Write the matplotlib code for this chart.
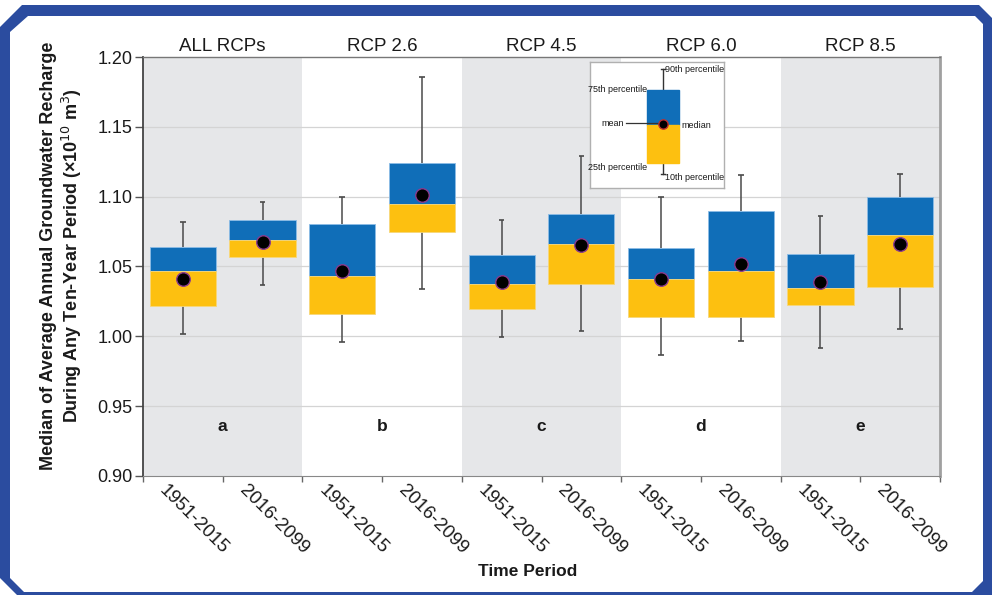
import matplotlib
matplotlib.use("Agg")
import matplotlib.pyplot as plt
from matplotlib.patches import Rectangle, Polygon
from matplotlib.transforms import ScaledTranslation
import numpy as np

plt.rcParams['font.family'] = ['Liberation Sans', 'DejaVu Sans']

# ---------------- data ----------------
groups = ["ALL RCPs", "RCP 2.6", "RCP 4.5", "RCP 6.0", "RCP 8.5"]
panel_letters = ["a", "b", "c", "d", "e"]
periods = ["1951-2015", "2016-2099"]
p10    = [1.0014, 1.0369, 0.9959, 1.0336, 0.9995, 1.0038, 0.9864, 0.9967, 0.9914, 1.0050]
q25    = [1.0214, 1.0567, 1.0162, 1.0748, 1.0193, 1.0374, 1.0138, 1.0138, 1.0226, 1.0350]
median = [1.0471, 1.0693, 1.0429, 1.0948, 1.0376, 1.0659, 1.0409, 1.0469, 1.0343, 1.0726]
q75    = [1.0643, 1.0831, 1.0807, 1.1243, 1.0579, 1.0879, 1.0633, 1.0900, 1.0588, 1.1000]
p90    = [1.0821, 1.0962, 1.0998, 1.1857, 1.0833, 1.1288, 1.0995, 1.1155, 1.0860, 1.1159]
mean   = [1.0414, 1.0676, 1.0467, 1.1014, 1.0388, 1.0657, 1.0407, 1.0521, 1.0386, 1.0659]
yticks = [0.90, 0.95, 1.00, 1.05, 1.10, 1.15, 1.20]

BLUE = '#106EB8'
YELLOW = '#FDC010'
SHADE = '#E6E7E9'
TXT = '#1a1a1a'
FRAME = '#2B4C9F'

W, H = 992, 595
fig = plt.figure(figsize=(W / 100, H / 100), dpi=100)
fig.patch.set_facecolor('white')

def fx(px):
    return px / W
def fy(py):
    return 1 - py / H

# outer decorative frame (blue band with chamfered corners)
outer = [(0, 27), (22, 5), (979, 5), (992, 18), (992, 595), (17, 595), (0, 578)]
inner = [(10, 32), (28, 16), (975, 16), (983, 24), (983, 581), (972, 592),
         (24, 592), (10, 578)]
fig.patches.append(Polygon([(fx(a), fy(b)) for a, b in outer], closed=True,
                           facecolor=FRAME, edgecolor='none',
                           transform=fig.transFigure, zorder=-3))
fig.patches.append(Polygon([(fx(a), fy(b)) for a, b in inner], closed=True,
                           facecolor='white', edgecolor='none',
                           transform=fig.transFigure, zorder=-2))

ax = fig.add_axes([fx(143), fy(476), fx(940) - fx(143), fy(57) - fy(476)])
ax.set_zorder(1)
n = len(median)
x = np.arange(n)
ax.set_xlim(-0.5, n - 0.5)
ax.set_ylim(0.90, 1.20)

# panel shading, titles, letters
for g in range(len(groups)):
    if g % 2 == 0:
        ax.axvspan(2 * g - 0.5, 2 * g + 1.5, color=SHADE, zorder=0, lw=0)
    ax.text(2 * g + 0.5, 1.2015, groups[g], ha='center', va='bottom', fontsize=13.5,
            color=TXT)
    ax.text(2 * g + 0.5, 0.9357, panel_letters[g], ha='center', va='center',
            fontsize=12.5, fontweight='bold', color=TXT)

for yv in yticks[1:-1]:
    ax.axhline(yv, color='#D4D4D4', lw=0.9, zorder=1)

bw = 0.83
# whiskers
ax.vlines(x, p10, q25, color='#4a4a4a', lw=1.1, zorder=2)
ax.vlines(x, q75, p90, color='#4a4a4a', lw=1.1, zorder=2)
ax.hlines(p10, x - 0.035, x + 0.035, color='#4a4a4a', lw=1.2, zorder=2)
ax.hlines(p90, x - 0.035, x + 0.035, color='#4a4a4a', lw=1.2, zorder=2)
# boxes
med = np.array(median)
ax.bar(x, np.array(q75) - med, bottom=med, width=bw, color=BLUE,
       edgecolor='#8CBCE6', lw=0.6, zorder=3)
ax.bar(x, med - np.array(q25), bottom=q25, width=bw, color=YELLOW,
       edgecolor='#F7D77A', lw=0.6, zorder=3)
ax.scatter(x, mean, s=95, color='black', edgecolor='#8A3C8E', lw=1.0, zorder=4)

# axes styling
ax.set_yticks(yticks)
ax.set_yticklabels([f"{v:.2f}" for v in yticks], fontsize=13, color=TXT)
ax.tick_params(axis='y', direction='out', length=6, width=1, color='#555555', pad=1.5)
ax.set_xticks(x)
ax.set_xticklabels([])
ax.tick_params(axis='x', which='major', length=0)
ax.set_xticks(np.arange(-0.5, n, 1.0), minor=True)
ax.tick_params(axis='x', which='minor', direction='out', length=4, width=1,
               color='#666666')
# period labels (rotated), placed below each box
off = ax.get_xaxis_transform() + ScaledTranslation(11 / 100, -6 / 100, fig.dpi_scale_trans)
for i in range(n):
    ax.text(x[i], 0, periods[i % 2], transform=off, rotation=-45, ha='center',
            va='top', fontsize=13.5, color=TXT, clip_on=False)

ax.spines['left'].set_color('#444444')
ax.spines['left'].set_linewidth(1.3)
ax.spines['bottom'].set_color('#888888')
ax.spines['top'].set_color('#777777')
ax.spines['top'].set_linewidth(1.0)
ax.spines['right'].set_color('#A0A0A0')
ax.spines['right'].set_linewidth(2.0)

fig.text(fx(62), fy(256), "Median of Average Annual Groundwater Recharge\n"
         "During Any Ten-Year Period (×10$^{10}$ m$^{3}$)",
         rotation=90, ha='center', va='center', fontsize=13, fontweight='bold',
         color=TXT, linespacing=1.2)
fig.text(fx(528), fy(571), "Time Period", ha='center', va='center', fontsize=12.5,
         fontweight='bold', color=TXT)

# legend inset (key diagram)
lg = fig.add_axes([fx(590), fy(188), fx(724) - fx(590), fy(62) - fy(188)])
lg.set_zorder(2)
lg.set_xlim(0, 134)
lg.set_ylim(126, 0)
lg.set_xticks([]); lg.set_yticks([])
for s in lg.spines.values():
    s.set_color('#B0B0B0'); s.set_linewidth(1.0)
key_p90, key_q75, key_med, key_q25, key_p10 = 7, 28, 63, 101, 112
kx, kw = 73, 32
lg.plot([kx, kx], [key_p90, key_p10], color='#333333', lw=1.0, zorder=1)
lg.plot([kx - 2, kx + 2], [key_p90, key_p90], color='#333333', lw=1.0)
lg.plot([kx - 2, kx + 2], [key_p10, key_p10], color='#333333', lw=1.0)
lg.add_patch(Rectangle((kx - kw / 2, key_q75), kw, key_med - key_q75, color=BLUE, zorder=2))
lg.add_patch(Rectangle((kx - kw / 2, key_med), kw, key_q25 - key_med, color=YELLOW, zorder=2))
lg.scatter([kx], [key_med - 1], s=45, color='black', edgecolor='#C0302E', lw=1.0, zorder=3)
lg.plot([36, kx - 3], [61, 61], color='#333333', lw=0.9, zorder=2)
fs = 6.5
lg.text(kx + 2, key_p90, "90th percentile", fontsize=fs, ha='left', va='center', color=TXT)
lg.text(kx - kw / 2, key_q75 - 1, "75th percentile", fontsize=fs, ha='right', va='center', color=TXT)
lg.text(34, 61, "mean", fontsize=fs, ha='right', va='center', color=TXT)
lg.text(kx + kw / 2 + 2, 63, "median", fontsize=fs, ha='left', va='center', color=TXT)
lg.text(kx - kw / 2, 105, "25th percentile", fontsize=fs, ha='right', va='center', color=TXT)
lg.text(kx + 2, 116, "10th percentile", fontsize=fs, ha='left', va='center', color=TXT)

fig.savefig("out.png", dpi=100)
